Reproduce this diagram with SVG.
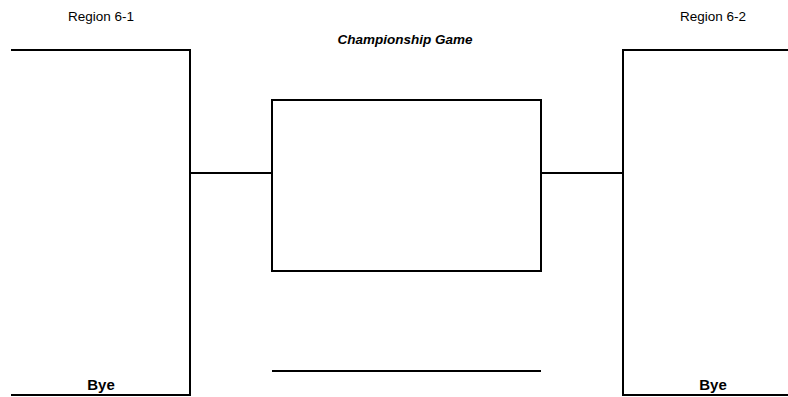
<svg xmlns="http://www.w3.org/2000/svg" width="788" height="397" viewBox="0 0 788 397">
<style>
.ln{fill:none;stroke:#000;stroke-width:2;stroke-linecap:square}
.lbl{font-family:"Liberation Sans",Arial,sans-serif;font-size:13.5px;fill:#000;text-anchor:middle}
.title{font-family:"Liberation Sans",Arial,sans-serif;font-size:13.5px;font-weight:bold;font-style:italic;fill:#000;text-anchor:middle}
.bye{font-family:"Liberation Sans",Arial,sans-serif;font-size:15px;font-weight:bold;fill:#000;text-anchor:middle}
</style>
<rect width="788" height="397" fill="#fff"/>
<g id="region-6-1">
  <polyline class="ln" points="12,50 190,50 190,395 12,395"/>
  <text class="lbl" x="101" y="21">Region 6-1</text>
  <text class="bye" x="101" y="390">Bye</text>
</g>
<g id="region-6-2">
  <polyline class="ln" points="788,50 623,50 623,395 788,395"/>
  <text class="lbl" x="713" y="21">Region 6-2</text>
  <text class="bye" x="713" y="390">Bye</text>
</g>
<g id="championship">
  <text class="title" x="405" y="44">Championship Game</text>
  <rect class="ln" x="272" y="100" width="269" height="171"/>
</g>
<g id="champion-line">
  <line class="ln" x1="273" y1="371" x2="540" y2="371"/>
</g>
<g id="connectors">
  <line class="ln" x1="190" y1="173" x2="272" y2="173"/>
  <line class="ln" x1="541" y1="173" x2="623" y2="173"/>
</g>
</svg>
